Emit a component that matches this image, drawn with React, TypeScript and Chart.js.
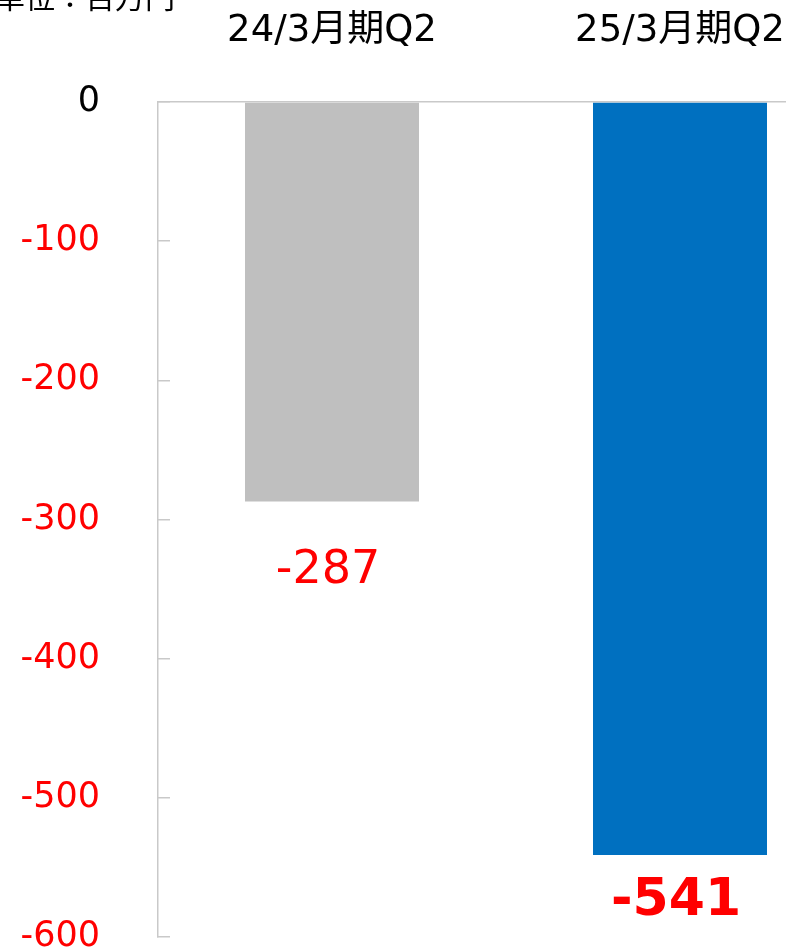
import React, { useEffect, useRef } from "react";
import { Chart, registerables } from "chart.js";

Chart.register(...registerables);

const categories = ["24/3月期Q2", "25/3月期Q2"];
const values = [-287, -541];
const barColors = ["#bfbfbf", "#0070c0"];
const valueLabels = ["-287", "-541"];
const unitLabel = "単位：百万円";
const yMin = -600;
const yMax = 0;
const yStep = 100;

const FONT = "'DejaVu Sans', 'Noto Sans CJK JP', sans-serif";
const AXIS_GRAY = "#c9c9c9";

const labelPlugin = {
  id: "valueLabels",
  afterDatasetsDraw(chart: any) {
    const ctx = chart.ctx;
    const meta = chart.getDatasetMeta(0);
    const styles = [
      { font: `normal 46px ${FONT}`, offset: 70 },
      { font: `bold 52px ${FONT}`, offset: 47 },
    ];
    meta.data.forEach((el: any, i: number) => {
      const s = styles[i];
      ctx.save();
      ctx.font = s.font;
      ctx.fillStyle = "#ff0000";
      ctx.textAlign = "center";
      ctx.textBaseline = "middle";
      ctx.fillText(valueLabels[i], el.x - 4, el.y + s.offset);
      ctx.restore();
    });
    ctx.save();
    ctx.font = `30px 'Noto Sans CJK JP', sans-serif`;
    ctx.fillStyle = "#000";
    ctx.textAlign = "left";
    ctx.textBaseline = "alphabetic";
    ctx.fillText(unitLabel, -5, 8);
    ctx.restore();
  },
};

export default function App() {
  const ref = useRef<HTMLCanvasElement | null>(null);
  useEffect(() => {
    if (!ref.current) return;
    const chart = new Chart(ref.current, {
      type: "bar",
      data: {
        labels: categories,
        datasets: [
          {
            data: values,
            backgroundColor: barColors,
            borderWidth: 0,
            barPercentage: 0.5,
            categoryPercentage: 1,
          },
        ],
      },
      options: {
        animation: false,
        responsive: false,
        devicePixelRatio: 1,
        layout: { padding: { left: 0, top: 0, right: 16, bottom: 10 } },
        plugins: { legend: { display: false }, tooltip: { enabled: false } },
        scales: {
          x: {
            position: "top",
            grid: { display: true, drawOnChartArea: false, drawTicks: false },
            border: { display: true, color: AXIS_GRAY, width: 1.5 },
            ticks: {
              color: "#000",
              font: { family: FONT, size: 37 },
              padding: 48,
              maxRotation: 0,
              autoSkip: false,
            },
            afterFit: (s: any) => {
              s.height = 102;
              s.paddingLeft = 0;
              s.paddingRight = 0;
            },
          },
          y: {
            min: yMin,
            max: yMax,
            grid: {
              drawOnChartArea: false,
              drawTicks: true,
              tickLength: -12,
              color: AXIS_GRAY,
              lineWidth: 1.5,
            },
            border: { display: true, color: AXIS_GRAY, width: 1.5 },
            ticks: {
              stepSize: yStep,
              padding: 70,
              font: { family: FONT, size: 35 },
              color: (c: any) => (c.tick && c.tick.value === 0 ? "#000" : "#ff0000"),
              callback: (v: any) => String(v),
            },
            afterFit: (s: any) => {
              s.width = 158;
              s.paddingTop = 0;
              s.paddingBottom = 0;
            },
          },
        },
      },
      plugins: [labelPlugin],
    });
    return () => chart.destroy();
  }, []);
  return (
    <div
      style={{
        position: "fixed",
        left: 0,
        top: 0,
        width: 786,
        height: 947,
        overflow: "hidden",
        background: "#fff",
      }}
    >
      <canvas ref={ref} width={870} height={947} style={{ width: 870, height: 947, display: "block" }} />
    </div>
  );
}
